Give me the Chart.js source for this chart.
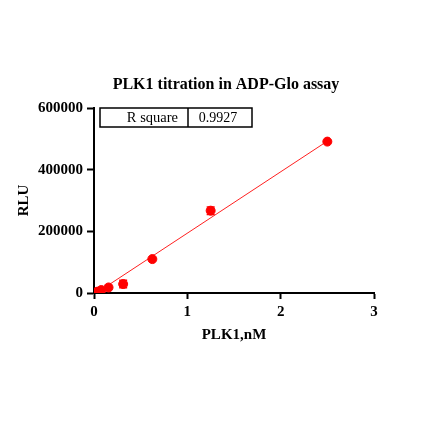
<!DOCTYPE html>
<html>
<head>
<meta charset="utf-8">
<script src="https://cdn.jsdelivr.net/npm/chart.js@4.4.0/dist/chart.umd.min.js"></script>
<style>
  html, body { margin: 0; padding: 0; background: #fff; }
  #wrap { width: 422px; height: 422px; }
</style>
</head>
<body>
<div id="wrap"><canvas id="plk1" width="422" height="422"></canvas></div>
<script>
// PLK1 concentration (nM) vs luminescence
let conc = [0, 0.0195, 0.039, 0.078, 0.156, 0.3125, 0.625, 1.25, 2.5];
let rlu = [0, 2000, 4500, 9500, 18000, 29000, 110000, 267000, 491000];
let rluErr = [0, 0, 0, 0, 0, 12000, 0, 12000, 0];
// linear fit end points
let fitX = [0, 2.5];
let fitY = [-5000, 492500];
let xTicks = [0, 1, 2, 3];
let yTicks = [0, 200000, 400000, 600000];
let chartTitle = "PLK1 titration in ADP-Glo assay";
let rSquareLabel = "R square";
let rSquareValue = "0.9927";

let serif = "'Liberation Serif', 'DejaVu Serif', serif";

let points = conc.map(function(x, i) { return {x: x, y: rlu[i]}; });
let fitLine = fitX.map(function(x, i) { return {x: x, y: fitY[i]}; });

let errorBars = {
    id: 'errorBars',
    afterDatasetsDraw: function(chart) {
        let ctx = chart.ctx;
        let xs = chart.scales.x, ys = chart.scales.y;
        ctx.save();
        ctx.strokeStyle = '#ff0000';
        ctx.lineWidth = 1.5;
        for (let i = 0; i < conc.length; i++) {
            if (!rluErr[i]) continue;
            let px = xs.getPixelForValue(conc[i]);
            let top = ys.getPixelForValue(rlu[i] + rluErr[i]);
            let bot = ys.getPixelForValue(rlu[i] - rluErr[i]);
            ctx.beginPath();
            ctx.moveTo(px, top); ctx.lineTo(px, bot);
            ctx.moveTo(px - 4, top); ctx.lineTo(px + 4, top);
            ctx.moveTo(px - 4, bot); ctx.lineTo(px + 4, bot);
            ctx.stroke();
        }
        ctx.restore();
    }
};

// title + R square box
let extras = {
    id: 'extras',
    afterDraw: function(chart) {
        let ctx = chart.ctx;
        let ca = chart.chartArea;
        ctx.save();
        ctx.fillStyle = '#000';
        ctx.font = "bold 16px " + serif;
        ctx.textAlign = 'center';
        ctx.textBaseline = 'middle';
        ctx.fillText(chartTitle, (ca.left + ca.right) / 2 - 8, 85);

        let left = ca.left + 6;
        let top = ca.top;
        let w1 = 88, w2 = 64, h = 19;
        ctx.strokeStyle = '#000';
        ctx.lineWidth = 1.5;
        ctx.strokeRect(left, top, w1 + w2, h);
        ctx.beginPath();
        ctx.moveTo(left + w1, top);
        ctx.lineTo(left + w1, top + h);
        ctx.stroke();
        ctx.font = "14.5px " + serif;
        ctx.textAlign = 'right';
        ctx.fillText(rSquareLabel, left + w1 - 10, top + h / 2 + 1);
        ctx.font = "14px " + serif;
        ctx.textAlign = 'center';
        ctx.fillText(rSquareValue, left + w1 + w2 / 2 - 2, top + h / 2 + 1);
        ctx.restore();
    }
};

let chart = new Chart(document.getElementById('plk1').getContext('2d'), {
    type: 'scatter',
    data: {
        datasets: [{
            label: 'PLK1',
            data: points,
            backgroundColor: '#ff0000',
            borderColor: '#ff0000',
            pointRadius: 4.5,
            pointHoverRadius: 4.5,
            order: 1
        }, {
            label: 'fit',
            type: 'line',
            data: fitLine,
            borderColor: '#ff2020',
            borderWidth: 1,
            pointRadius: 0,
            fill: false,
            order: 2
        }]
    },
    options: {
        responsive: false,
        animation: false,
        events: [],
        layout: {padding: {left: 0, right: 48, top: 108, bottom: 75}},
        plugins: {
            legend: {display: false},
            tooltip: {enabled: false},
            title: {display: false}
        },
        scales: {
            x: {
                type: 'linear',
                min: 0, max: 3,
                afterBuildTicks: function(s) { s.ticks = xTicks.map(function(v) { return {value: v}; }); },
                afterFit: function(s) { s.height = 54; },
                grid: {display: true, drawOnChartArea: false, drawTicks: true, tickLength: 6, tickWidth: 2, tickColor: '#000'},
                border: {color: '#000', width: 2},
                ticks: {color: '#000', padding: 4, font: {family: serif, size: 15, weight: 'bold'},
                        callback: function(v) { return String(v); }},
                title: {display: true, text: 'PLK1,nM', color: '#000', padding: {top: 0, bottom: 3}, font: {family: serif, size: 15, weight: 'bold'}}
            },
            y: {
                type: 'linear',
                min: 0, max: 600000,
                afterBuildTicks: function(s) { s.ticks = yTicks.map(function(v) { return {value: v}; }); },
                afterFit: function(s) { s.width = 94; },
                grid: {display: true, drawOnChartArea: false, drawTicks: true, tickLength: 7, tickWidth: 2, tickColor: '#000'},
                border: {color: '#000', width: 2},
                ticks: {color: '#000', padding: 4, font: {family: serif, size: 15, weight: 'bold'},
                        callback: function(v) { return String(v); }},
                title: {display: true, text: 'RLU', color: '#000', padding: {top: 15, bottom: 0}, font: {family: serif, size: 15, weight: 'bold'}}
            }
        }
    },
    plugins: [errorBars, extras]
});
</script>
</body>
</html>
